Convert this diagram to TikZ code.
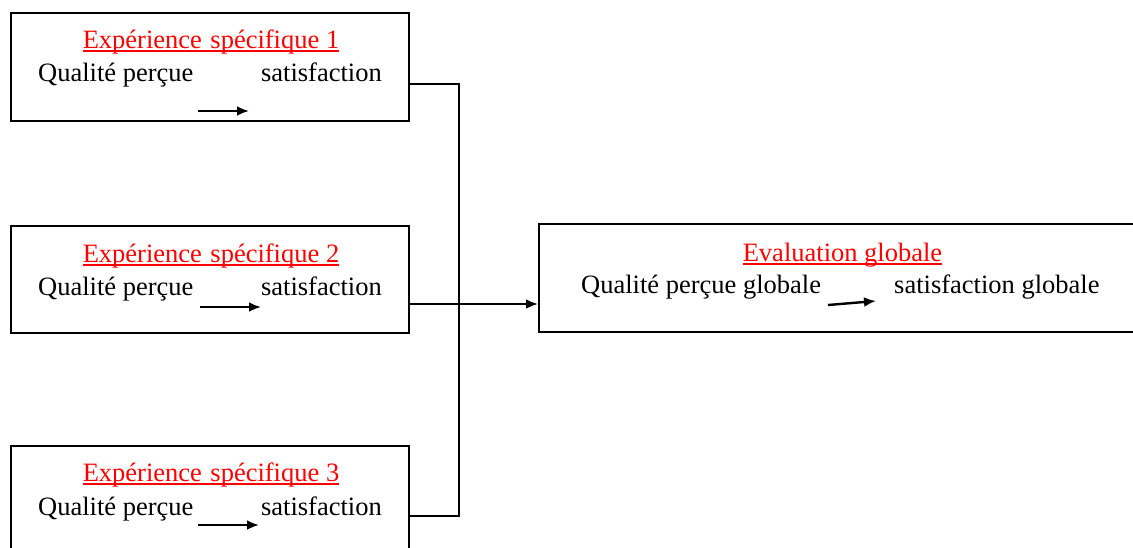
\documentclass[tikz,border=0pt]{standalone}
\usepackage{fontspec}
\setmainfont{Liberation Serif}
\usetikzlibrary{arrows.meta}
\definecolor{titlered}{RGB}{255,0,0}
\tikzset{
  box/.style={draw=black, line width=2pt, minimum width=#1, inner sep=0pt},
  box/.default={398pt},
  txt/.style={inner sep=0pt, font=\fontsize{26.5}{32}\selectfont},
  ttl/.style={txt, text=titlered, anchor=base},
  uline/.style={draw=titlered, line width=1.7pt},
  link/.style={draw=black, line width=2pt},
  flow/.style={draw=black, line width=2.4pt, -{Latex[length=12pt,width=10pt]}},
}
\begin{document}
\begin{tikzpicture}[x=1pt,y=-1pt]
\useasboundingbox (0,0) rectangle (1133,547);

% the three specific experiences
\node[box, minimum height=108pt] (b1) at (210,67) {};
\node[box, minimum height=107pt] (b2) at (209.5,279.5) {};
\node[box, minimum height=108pt] (b3) at (210,500) {};
% the global evaluation
\node[box=600pt, minimum height=108pt] (b4) at (839,278) {};

% titles
\node[ttl] (t1) at (211,48) {Expérience\hspace{0.32em}spécifique 1};
\node[ttl] (t2) at (211,262) {Expérience\hspace{0.32em}spécifique 2};
\node[ttl] (t3) at (211,481) {Expérience\hspace{0.32em}spécifique 3};
\node[ttl] (t4) at (842.5,261) {Evaluation globale};
\foreach \t in {t1,t2,t3,t4}
  \draw[uline] ([yshift=-2.8pt]\t.base west) -- ([yshift=-2.8pt]\t.base east);

% contents
\node[txt, anchor=base west] (q1) at (38,81) {Qualité perçue};
\node[txt, anchor=base east] (s1) at (382,81) {satisfaction};
\node[txt, anchor=base west] (q2) at (38,295) {Qualité perçue};
\node[txt, anchor=base east] (s2) at (382,295) {satisfaction};
\node[txt, anchor=base west] (q3) at (38,515) {Qualité perçue};
\node[txt, anchor=base east] (s3) at (382,515) {satisfaction};
\node[txt, anchor=base west] (q4) at (581,293) {Qualité perçue globale};
\node[txt, anchor=base west] (s4) at (894,293) {satisfaction globale};

% small arrows inside the boxes
\coordinate (a1s) at (198,111); \coordinate (a1e) at (249,111);
\coordinate (a2s) at (200,307); \coordinate (a2e) at (261,307);
\coordinate (a3s) at (198,525); \coordinate (a3e) at (259,525);
\coordinate (a4s) at (828,305); \coordinate (a4e) at (876,301);
\draw[flow] (a1s) -- (a1e);
\draw[flow] (a2s) -- (a2e);
\draw[flow] (a3s) -- (a3e);
\draw[flow] (a4s) -- (a4e);

% bus joining the experiences to the global evaluation
\coordinate (jtop) at (459,84);
\coordinate (jbot) at (459,516);
\coordinate (jmid) at (459,304);
\draw[link] (jtop -| b1.east) -- (jtop) -- (jbot) -- (jbot -| b3.east);
\draw[flow] (jmid -| b2.east) -- (jmid -| b4.west);
\end{tikzpicture}
\end{document}
